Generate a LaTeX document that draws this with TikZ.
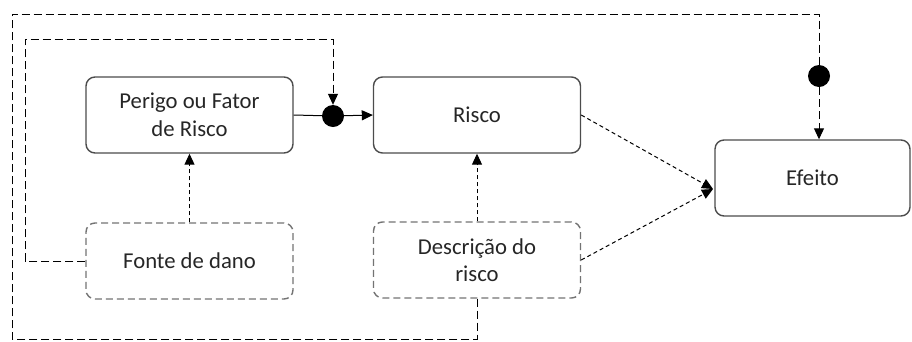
\documentclass[tikz,border=0pt]{standalone}
\usepackage{fontspec}
\setmainfont{Carlito}
\usepackage{tikz}
\usetikzlibrary{arrows.meta}
\tikzstyle{every node}=[font=\fontsize{22.7}{27.5}\selectfont,text=black!85,align=center]
\tikzstyle{etapa}=[draw=black!70,line width=1.4pt,rounded corners=9pt,minimum width=207pt,minimum height=76pt]
\tikzstyle{origem}=[etapa,draw=black!55,dash pattern=on 7pt off 4pt]
\tikzstyle{juncao}=[circle,fill=black,inner sep=0pt,minimum size=22pt]
\tikzstyle{seta}=[-{Triangle[length=11pt,width=10pt]}]
\tikzstyle{laco}=[line width=1pt,dash pattern=on 8pt off 4pt]
\tikzstyle{influencia}=[line width=1pt,dash pattern=on 4pt off 3pt]

\begin{document}
\begin{tikzpicture}[x=1pt,y=-1pt]
          \useasboundingbox (0,0) rectangle (912,341);
          \node[etapa] (perigo) at (189.5,115) {Perigo ou Fator\\de Risco};
          \node[etapa] (risco) at (477,115) {Risco};
          \node[etapa,minimum width=195pt] (efeito) at (812.5,178) {Efeito};
          \node[origem] (fonte) at (189.5,261) {Fonte de dano};
          \node[origem] (descricao) at (477,260) {Descrição do\\risco};
          \node[juncao] (no1) at (333,116) {};
          \node[juncao] (no2) at (819,76) {};
          \coordinate (alvo) at (713,189);
          \coordinate (canto1) at (25,39);
          \coordinate (canto2) at (12,14);
          \coordinate (base) at (0,339);
          \draw[line width=1pt] (perigo.east) -- (no1);
          \draw[line width=1pt,seta] (no1) -- (risco.west);
          \draw[laco,seta] (fonte.west) -| (canto1) -| (no1);
          \draw[laco] (descricao.south) -- (descricao.south |- base) -| (canto2) -| (no2);
          \draw[laco,seta] (no2) -- (no2 |- efeito.north);
          \draw[influencia,seta] (fonte.north) -- (perigo.south);
          \draw[influencia,seta] (descricao.north) -- (risco.south);
          \draw[influencia,seta] (risco.east) -- (alvo);
          \draw[influencia,seta] (descricao.east) -- (alvo);
        \end{tikzpicture}
\end{document}
